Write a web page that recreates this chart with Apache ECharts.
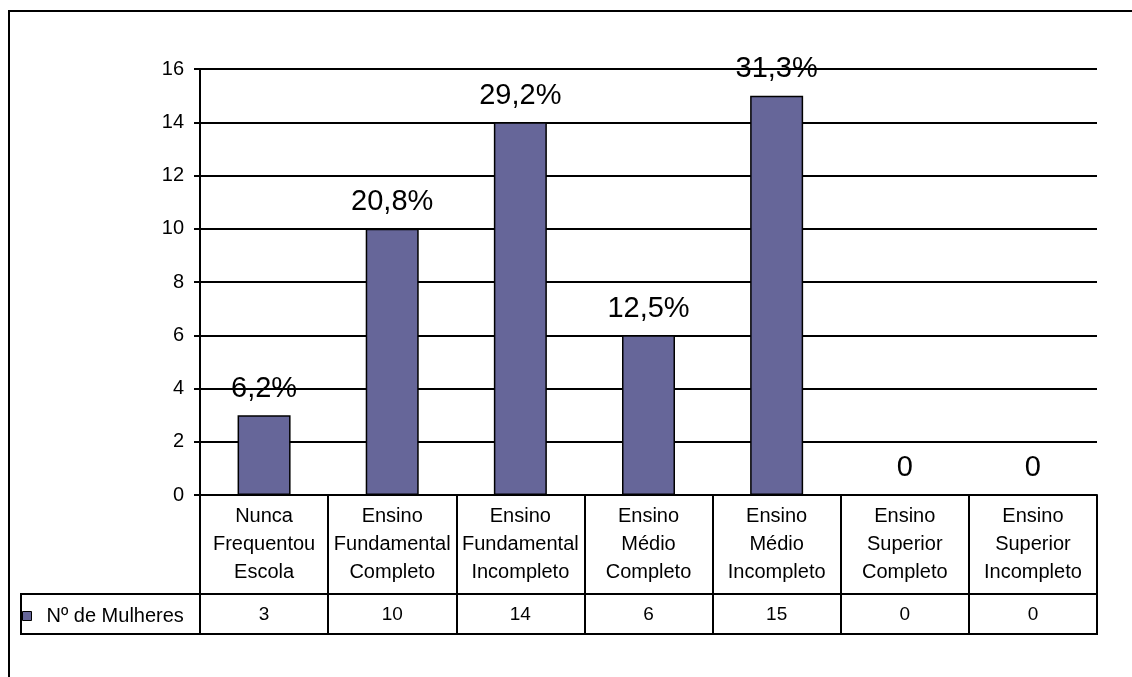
<!DOCTYPE html>
<html>
<head>
<meta charset="utf-8">
<script src="https://cdn.jsdelivr.net/npm/echarts@6/dist/echarts.min.js"></script>
<style>
  html, body { margin: 0; padding: 0; background: #fff; }
  #chart { width: 1132px; height: 677px; }
</style>
</head>
<body>
<div id="chart"></div>
<script>
// Escolaridade das mulheres entrevistadas
const categorias = [
  'Nunca Frequentou Escola',
  'Ensino Fundamental Completo',
  'Ensino Fundamental Incompleto',
  'Ensino Médio Completo',
  'Ensino Médio Incompleto',
  'Ensino Superior Completo',
  'Ensino Superior Incompleto'
];
const mulheres = [3, 10, 14, 6, 15, 0, 0];
const percentuais = ['6,2%', '20,8%', '29,2%', '12,5%', '31,3%', '0', '0'];
const serieNome = 'Nº de Mulheres';

const FONT = "'Liberation Sans', Arial, sans-serif";
const BAR_COLOR = '#666699';
const INK = '#000';
const LINE_W = 2;

const chart = echarts.init(document.getElementById('chart'), null, { renderer: 'canvas' });

const option = {
  animation: false,
  backgroundColor: '#fff',
  textStyle: { fontFamily: FONT, color: INK },
  grid: { left: 200, right: 35, top: 69, bottom: 182, containLabel: false },
  legend: {
    data: [serieNome],
    left: 22,
    top: 606,
    padding: 0,
    icon: 'rect',
    itemWidth: 9,
    itemHeight: 9,
    itemStyle: { borderColor: INK, borderWidth: 1 },
    textStyle: { fontFamily: FONT, fontSize: 20, color: INK, padding: [0, 0, 0, 10] }
  },
  xAxis: [
    {
      type: 'category',
      data: categorias,
      position: 'bottom',
      boundaryGap: true,
      axisLine: { show: true, lineStyle: { color: INK, width: LINE_W } },
      axisTick: { show: true, interval: 0, length: 139, alignWithLabel: false, lineStyle: { color: INK, width: LINE_W } },
      axisLabel: {
        interval: 0,
        margin: 7,
        fontFamily: FONT,
        fontSize: 20,
        lineHeight: 28,
        color: INK,
        formatter: v => v.split(' ').join('\n')
      },
      splitLine: { show: false }
    },
    {
      type: 'category',
      data: categorias,
      position: 'bottom',
      boundaryGap: true,
      axisLine: { show: false },
      axisTick: { show: false },
      axisLabel: {
        interval: 0,
        margin: 110,
        fontFamily: FONT,
        fontSize: 19,
        lineHeight: 20,
        color: INK,
        formatter: (v, i) => String(mulheres[i])
      },
      splitLine: { show: false }
    }
  ],
  yAxis: {
    type: 'value',
    min: 0,
    max: 16,
    interval: 2,
    axisLine: { show: true, lineStyle: { color: INK, width: LINE_W } },
    axisTick: { show: true, length: 6, lineStyle: { color: INK, width: LINE_W } },
    axisLabel: { margin: 16, fontFamily: FONT, fontSize: 20, color: INK },
    splitLine: { show: true, lineStyle: { color: INK, width: LINE_W, type: 'solid' } }
  },
  series: [
    {
      name: serieNome,
      type: 'bar',
      xAxisIndex: 0,
      data: mulheres,
      barWidth: 53,
      itemStyle: { color: BAR_COLOR, borderColor: INK, borderWidth: 1.5 },
      label: {
        show: true,
        position: 'top',
        distance: 12,
        fontFamily: FONT,
        fontSize: 29,
        color: INK,
        formatter: p => percentuais[p.dataIndex]
      }
    }
  ]
};

chart.setOption(option);

// Data table frame below the plot, placed from the axis scales
const c0 = chart.convertToPixel({ xAxisIndex: 0 }, categorias[0]);
const c1 = chart.convertToPixel({ xAxisIndex: 0 }, categorias[1]);
const cN = chart.convertToPixel({ xAxisIndex: 0 }, categorias[categorias.length - 1]);
const half = (c1 - c0) / 2;
const xRight = Math.round(cN + half);
const y0 = chart.convertToPixel({ yAxisIndex: 0 }, 0);
const rowTop = Math.round(y0 + 99);
const rowBottom = Math.round(y0 + 139);
const legendLeft = 21;

const lineStyle = { stroke: INK, lineWidth: LINE_W };

chart.setOption({
  graphic: [
    {
      type: 'rect',
      silent: true,
      shape: { x: 9, y: 11, width: 1300, height: 1000 },
      style: { fill: 'none', stroke: INK, lineWidth: 2 }
    },
    {
      type: 'line', silent: true,
      shape: { x1: legendLeft - 1, y1: rowTop, x2: xRight + 1, y2: rowTop },
      style: lineStyle
    },
    {
      type: 'line', silent: true,
      shape: { x1: legendLeft - 1, y1: rowBottom, x2: xRight + 1, y2: rowBottom },
      style: lineStyle
    },
    {
      type: 'line', silent: true,
      shape: { x1: legendLeft, y1: rowTop, x2: legendLeft, y2: rowBottom },
      style: lineStyle
    }
  ]
});
</script>
</body>
</html>
